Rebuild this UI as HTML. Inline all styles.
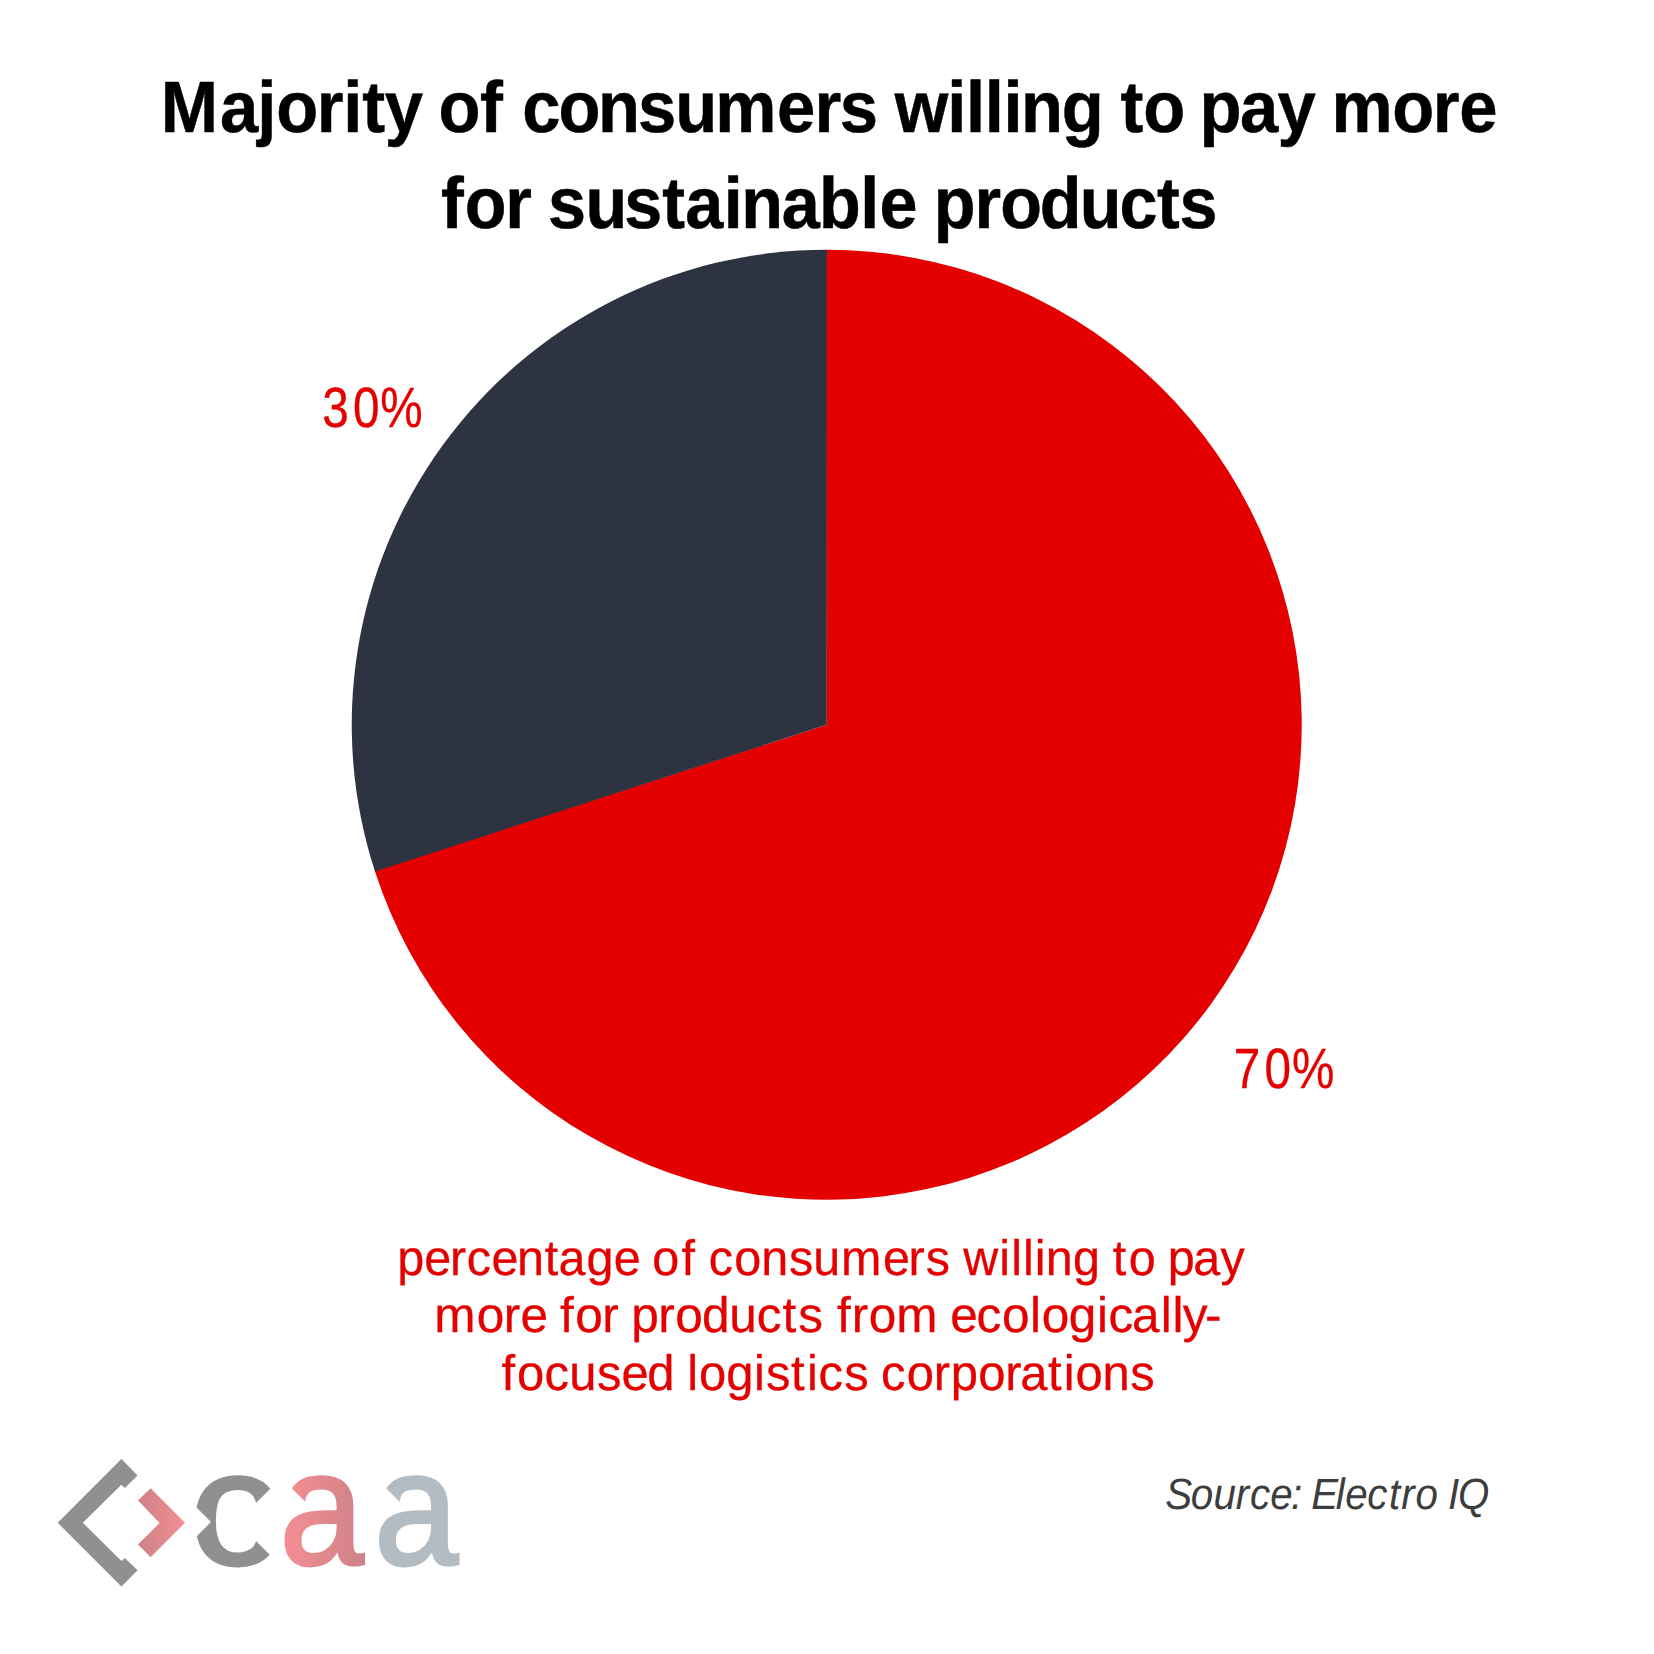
<!DOCTYPE html>
<html lang="en">
<head>
<meta charset="utf-8">
<title>Majority of consumers willing to pay more for sustainable products</title>
<style>
html,body{margin:0;padding:0;background:#fff;}
body{width:1654px;height:1654px;overflow:hidden;position:relative;}
svg{display:block;position:absolute;left:0;top:0;}
text{font-family:"Liberation Sans",sans-serif;text-rendering:geometricPrecision;}
.title{font-weight:bold;font-size:72.6px;fill:#000;stroke:#000;stroke-width:0.5px;}
.lab{font-size:56.8px;fill:#e50000;stroke:#e50000;stroke-width:0.3px;}
.cap{font-size:49.8px;fill:#e50000;stroke:#e50000;stroke-width:0.3px;}
.src{font-size:43.8px;font-style:italic;fill:#3d3d3d;}
.logo{font-size:161.77px;stroke-width:3.6px;}
</style>
</head>
<body>
<svg width="1654" height="1654" viewBox="0 0 1654 1654">
  <!-- pie chart: 70% red, 30% dark -->
  <path d="M826.75 724.75 L825.75 249.75 L826.75 249.75 A475 475 0 1 1 375 871.53 L374.7 870.6 Z" fill="#e50000"/>
  <path d="M826.75 724.75 L375 871.53 A475 475 0 0 1 826.75 249.75 Z" fill="#2e3341"/>

  <text class="title" transform="scale(0.9472 1)" y="132" x="169.73 232.27 271.72 291.76 334.47 362.29 382.52 406.21 445.34 462.93 506.89 533.03 551.26 589.63 631.33 673.51 712.91 755.15 820.33 860.03 886.65 926.51 944.76 999.93 1019.75 1039.57 1059.39 1077.80 1120.96 1164.16 1182.99 1207.08 1249.40 1266.38 1309.19 1348.78 1387.36 1405.82 1469.82 1512.53 1540.69">Majority of consumers willing to pay more</text>
  <text class="title" transform="scale(0.9413 1)" y="228" x="468.41 493.75 536.70 564.80 582.26 621.94 663.21 703.51 727.91 768.95 787.57 830.47 870.14 913.91 934.27 974.70 991.95 1035.36 1062.57 1104.60 1147.01 1189.30 1229.12 1253.07">for sustainable products</text>
  <text class="cap" transform="scale(0.9741 1)" y="1275" x="407.85 435.63 461.88 479.27 504.67 530.75 559.15 573.34 602.05 630.20 656.43 669.56 699.50 714.62 727.50 753.88 781.44 809.92 834.76 863.48 906.43 932.68 950.34 975.33 988.80 1025.93 1038.06 1050.20 1062.34 1073.61 1101.44 1129.35 1142.42 1158.81 1186.03 1198.90 1224.99 1252.94">percentage of consumers willing to pay</text>
  <text class="cap" transform="scale(0.9938 1)" y="1332" x="436.86 479.63 506.92 523.64 549.18 563.38 578.82 606.10 622.86 635.20 662.33 679.56 706.38 733.72 761.37 787.30 803.29 828.04 842.24 857.04 874.27 901.87 944.17 956.29 982.52 1008.38 1036.42 1048.21 1075.51 1103.74 1115.30 1138.98 1167.90 1179.81 1190.24 1212.65">more for products from ecologically-</text>
  <text class="cap" transform="scale(0.9820 1)" y="1390" x="510.79 526.47 554.46 579.70 607.92 632.92 659.05 686.96 699.90 711.90 739.50 767.95 779.99 805.50 821.72 833.49 859.67 884.55 897.22 923.36 950.90 968.09 996.16 1023.69 1038.97 1067.11 1083.33 1095.34 1122.67 1150.93">focused logistics corporations</text>
  <text class="src" transform="scale(0.9205 1)" y="1509" x="1265.98 1293.50 1318.33 1342.43 1358.09 1380.08 1402.59 1414.79 1424.64 1451.18 1461.36 1485.44 1508.86 1522.27 1537.79 1562.38 1573.20 1583.80">Source: Electro IQ</text>
  <text class="lab" transform="scale(0.84 1)" y="427" x="383.75 420.33 452.80">30%</text>
  <text class="lab" transform="scale(0.84 1)" y="1088" x="1468.79 1505.27 1538.04">70%</text>

  <!-- logo -->
  <defs>
    <linearGradient id="gch" x1="138" y1="0" x2="185" y2="0" gradientUnits="userSpaceOnUse">
      <stop offset="0" stop-color="#cd8287"/><stop offset="1" stop-color="#f48e93"/>
    </linearGradient>
    <linearGradient id="ga" x1="284.6" y1="0" x2="365.1" y2="0" gradientUnits="userSpaceOnUse">
      <stop offset="0" stop-color="#f48e93"/><stop offset="1" stop-color="#cd8287"/>
    </linearGradient>
  </defs>
  <polygon points="121.4,1459.1 137.6,1475.5 124.8,1488 121.4,1484.8 82.8,1522.7 121.4,1561 124.8,1557.9 137.6,1570.3 121.4,1586.4 57.7,1522.7" fill="#918f90"/>
  <polygon points="150.6,1488.3 185,1522.7 150.6,1557.2 138,1544.6 159.6,1523 138,1500.6" fill="url(#gch)"/>
  <text class="logo" y="1564.28"><tspan x="189.66" textLength="89.91" lengthAdjust="spacingAndGlyphs" fill="#918f90" stroke="#918f90">c</tspan><tspan x="279.86" textLength="83.63" lengthAdjust="spacingAndGlyphs" fill="url(#ga)" stroke="url(#ga)">a</tspan><tspan x="374.16" textLength="83.63" lengthAdjust="spacingAndGlyphs" fill="#b3bcc2" stroke="#b3bcc2">a</tspan></text>
  <polygon points="189,1500 211,1522 189,1544" fill="#fff"/>
  <polygon points="280,1479 250.5,1508.5 250.5,1535.5 280,1565" fill="#fff"/>
  <polygon points="283,1479.6 309.5,1506 283,1506" fill="#fff"/>
  <polygon points="377.3,1479.6 403.8,1506 377.3,1506" fill="#fff"/>

</svg>
</body>
</html>
